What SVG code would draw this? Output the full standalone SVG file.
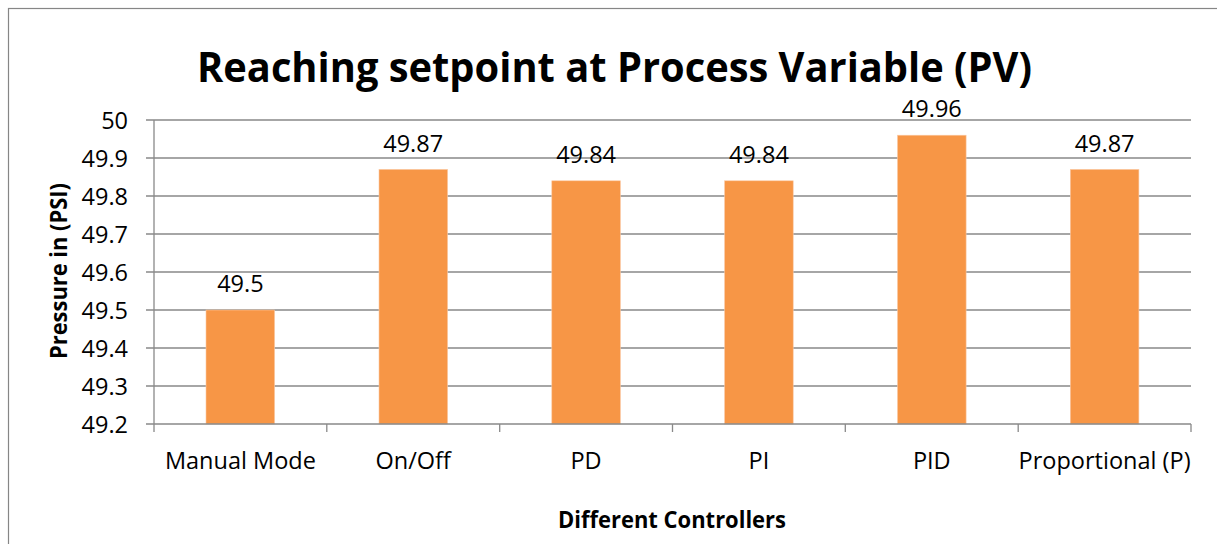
<svg xmlns="http://www.w3.org/2000/svg" width="1217" height="544" viewBox="0 0 1217 544">
  <style>
    .frame { fill: #ffffff; stroke: #868686; stroke-width: 1.2; }
    .grid { stroke: #898989; stroke-width: 1.3; fill: none; }
    .axis { stroke: #898989; stroke-width: 1.3; fill: none; }
    .bar { fill: #f79646; stroke: #fbc9a4; stroke-width: 0.6; }
    .tick { font-family: "Open Sans", "Liberation Sans", sans-serif; font-size: 23.5px; fill: #000; text-anchor: end; }
    .val { font-family: "Open Sans", "Liberation Sans", sans-serif; font-size: 23.5px; fill: #000; text-anchor: middle; }
    .cat { font-family: "Open Sans", "Liberation Sans", sans-serif; font-size: 23.5px; fill: #000; text-anchor: middle; }
    .axtitle { font-family: "Open Sans", "Liberation Sans", sans-serif; font-size: 23.5px; font-weight: bold; fill: #000; text-anchor: middle; }
    .title { font-family: "Open Sans", "Liberation Sans", sans-serif; font-size: 42px; font-weight: bold; fill: #000; text-anchor: middle; }
  </style>

  <!-- chart area frame -->
  <rect class="frame" x="8.5" y="8.5" width="1230" height="560"/>

  <!-- chart title -->
  <text class="title" x="614.5" y="81.5" textLength="835" lengthAdjust="spacingAndGlyphs">Reaching setpoint at Process Variable (PV)</text>

  <!-- horizontal gridlines (with tick stubs left of the axis) -->
  <g id="gridlines">
    <line class="grid" x1="146" y1="120" x2="1191" y2="120"/>
    <line class="grid" x1="146" y1="158" x2="1191" y2="158"/>
    <line class="grid" x1="146" y1="196" x2="1191" y2="196"/>
    <line class="grid" x1="146" y1="234" x2="1191" y2="234"/>
    <line class="grid" x1="146" y1="272" x2="1191" y2="272"/>
    <line class="grid" x1="146" y1="310" x2="1191" y2="310"/>
    <line class="grid" x1="146" y1="348" x2="1191" y2="348"/>
    <line class="grid" x1="146" y1="386" x2="1191" y2="386"/>
  </g>

  <!-- value axis labels -->
  <g id="y-labels">
    <text class="tick" x="128" y="128.5">50</text>
    <text class="tick" x="128" y="166.5">49.9</text>
    <text class="tick" x="128" y="204.5">49.8</text>
    <text class="tick" x="128" y="242.5">49.7</text>
    <text class="tick" x="128" y="280.5">49.6</text>
    <text class="tick" x="128" y="318.5">49.5</text>
    <text class="tick" x="128" y="356.5">49.4</text>
    <text class="tick" x="128" y="394.5">49.3</text>
    <text class="tick" x="128" y="432.5">49.2</text>
  </g>

  <!-- bars -->
  <g id="bars">
    <rect id="bar-manual" class="bar" x="206" y="310" width="68.6" height="114"/>
    <rect id="bar-onoff" class="bar" x="379" y="169.4" width="68.6" height="254.6"/>
    <rect id="bar-pd" class="bar" x="551.8" y="180.8" width="68.6" height="243.2"/>
    <rect id="bar-pi" class="bar" x="724.6" y="180.8" width="68.6" height="243.2"/>
    <rect id="bar-pid" class="bar" x="897.5" y="135.2" width="68.6" height="288.8"/>
    <rect id="bar-p" class="bar" x="1070.3" y="169.4" width="68.6" height="254.6"/>
  </g>

  <!-- data labels -->
  <g id="values">
    <text class="val" x="240.4" y="292">49.5</text>
    <text class="val" x="413.2" y="151.5">49.87</text>
    <text class="val" x="586.1" y="162.5">49.84</text>
    <text class="val" x="758.9" y="162.5">49.84</text>
    <text class="val" x="931.8" y="116.8">49.96</text>
    <text class="val" x="1104.6" y="151.5">49.87</text>
  </g>

  <!-- axes -->
  <g id="axes">
    <line class="axis" x1="154" y1="120" x2="154" y2="432"/>
    <line class="axis" x1="146" y1="424" x2="1191" y2="424"/>
    <line class="axis" x1="326.8" y1="424" x2="326.8" y2="432"/>
    <line class="axis" x1="499.7" y1="424" x2="499.7" y2="432"/>
    <line class="axis" x1="672.5" y1="424" x2="672.5" y2="432"/>
    <line class="axis" x1="845.3" y1="424" x2="845.3" y2="432"/>
    <line class="axis" x1="1018.2" y1="424" x2="1018.2" y2="432"/>
    <line class="axis" x1="1191" y1="424" x2="1191" y2="432"/>
  </g>

  <!-- category labels -->
  <g id="x-labels">
    <text class="cat" x="240.4" y="468.5">Manual Mode</text>
    <text class="cat" x="413.2" y="468.5">On/Off</text>
    <text class="cat" x="586.1" y="468.5">PD</text>
    <text class="cat" x="758.9" y="468.5">PI</text>
    <text class="cat" x="931.8" y="468.5">PID</text>
    <text class="cat" x="1104.6" y="468.5">Proportional (P)</text>
  </g>

  <!-- axis titles -->
  <text class="axtitle" x="672" y="528.3" textLength="228" lengthAdjust="spacingAndGlyphs">Different Controllers</text>
  <text class="axtitle" transform="translate(67 271) rotate(-90)" x="0" y="0" textLength="176" lengthAdjust="spacingAndGlyphs">Pressure in (PSI)</text>
</svg>
